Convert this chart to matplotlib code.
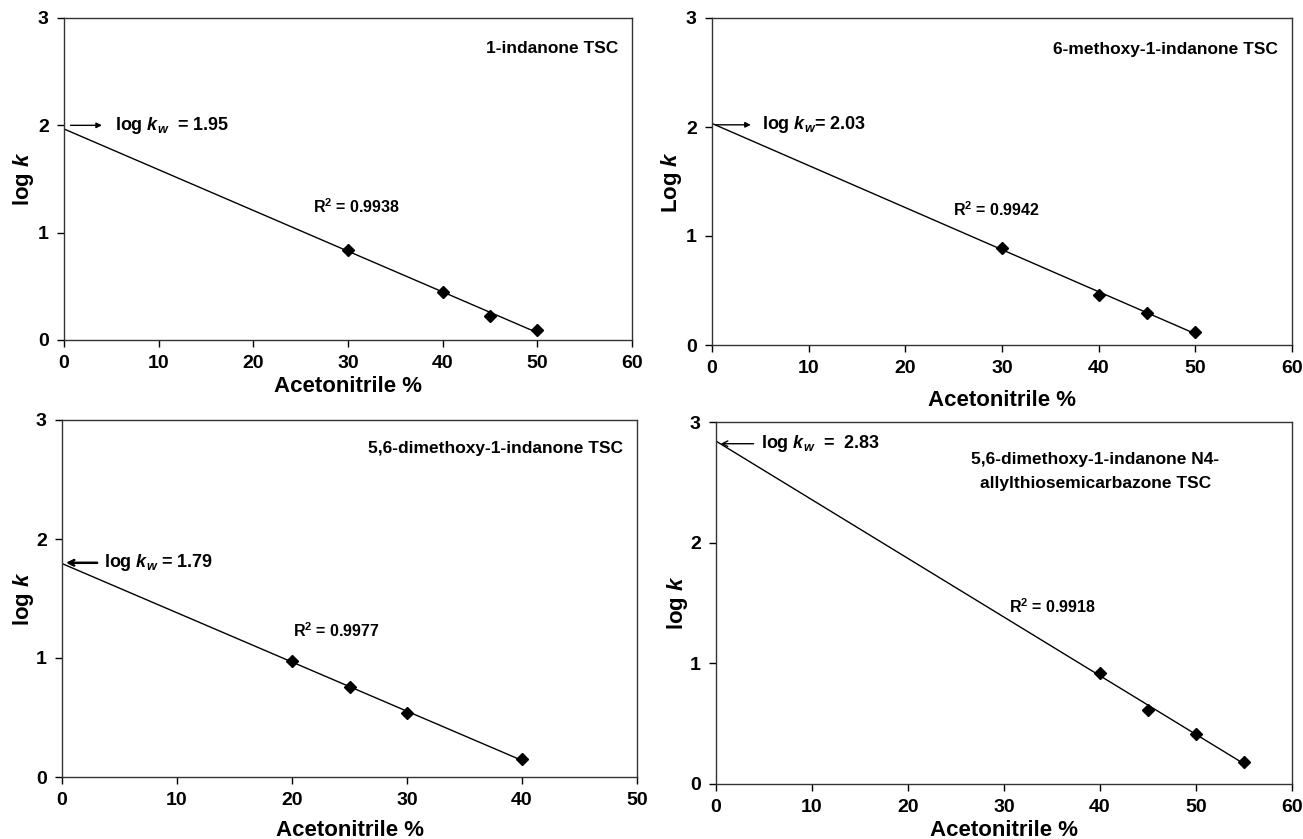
import matplotlib
matplotlib.use("Agg")
import matplotlib.pyplot as plt
import numpy as np

plt.rcParams['font.family'] = ['Liberation Sans', 'DejaVu Sans']
plt.rcParams['mathtext.fontset'] = 'custom'
plt.rcParams['mathtext.rm'] = 'Liberation Sans:bold'
plt.rcParams['mathtext.it'] = 'Liberation Sans:italic:bold'
plt.rcParams['mathtext.bf'] = 'Liberation Sans:bold'

# ---- data ----
titles = ["1-indanone TSC", "6-methoxy-1-indanone TSC",
          "5,6-dimethoxy-1-indanone TSC",
          "5,6-dimethoxy-1-indanone N4-\nallylthiosemicarbazone TSC"]
ylabels = ["log $k$", "Log $k$", "log $k$", "log $k$"]
x1 = [30, 40, 45, 50]
y1 = [0.837, 0.445, 0.226, 0.094]
x2 = [30, 40, 45, 50]
y2 = [0.892, 0.457, 0.290, 0.123]
x3 = [20, 25, 30, 40]
y3 = [0.978, 0.754, 0.538, 0.148]
x4 = [40, 45, 50, 55]
y4 = [0.923, 0.614, 0.412, 0.180]
logkw = [1.95, 2.03, 1.79, 2.83]
r2 = ["0.9938", "0.9942", "0.9977", "0.9918"]
xmax = [60, 60, 50, 60]

fig = plt.figure(figsize=(13.03, 8.39), dpi=100)
rects = [
    [64/1303, 1-340/839, (632-64)/1303, (340-18)/839],
    [712/1303, 1-345/839, (1292-712)/1303, (345-18)/839],
    [62/1303, 1-777/839, (637-62)/1303, (777-420)/839],
    [716/1303, 1-784/839, (1292-716)/1303, (784-422)/839],
]
xlab_y = [-0.112, -0.137, -0.120, -0.099]
ylab_x = [-0.050, -0.049, -0.045, -0.045]
xs = [x1, x2, x3, x4]
ys = [y1, y2, y3, y4]

for i in range(4):
    ax = fig.add_axes(rects[i])
    x = np.array(xs[i], float); y = np.array(ys[i], float)
    slope, icpt = np.polyfit(x, y, 1)
    xl = np.array([0, x.max()])
    ax.plot(xl, icpt + slope*xl, color='black', lw=1.0)
    ax.plot(x, y, 'D', color='black', ms=6.5)
    ax.set_xlim(0, xmax[i]); ax.set_ylim(0, 3)
    ax.set_xticks(np.arange(0, xmax[i]+1, 10))
    ax.set_yticks([0, 1, 2, 3])
    ax.tick_params(direction='out', length=5, width=1, labelsize=14, pad=6)
    for lab in ax.get_xticklabels() + ax.get_yticklabels():
        lab.set_fontweight('bold')
    for sp in ax.spines.values():
        sp.set_color('#333333'); sp.set_linewidth(1.0)
    ax.set_xlabel("Acetonitrile %", fontsize=16, fontweight='bold')
    ax.set_ylabel(ylabels[i], fontsize=16, fontweight='bold')
    ax.xaxis.set_label_coords(0.5, xlab_y[i])
    ax.yaxis.set_label_coords(ylab_x[i], 0.5)

    # compound label
    if i == 3:
        ax.text(39.5, 2.59, titles[i], ha='center', va='center', fontsize=12.5,
                fontweight='bold', linespacing=1.75)
    else:
        ax.text(0.975, 0.905 if i != 2 else 0.92, titles[i], transform=ax.transAxes,
                ha='right', va='center', fontsize=12.5, fontweight='bold')

    # log kw annotation
    if i == 0:
        ax.annotate("", xy=(4.3, 2.0), xytext=(0.4, 2.0),
                    arrowprops=dict(arrowstyle='-|>', color='black', lw=1,
                                    mutation_scale=8))
        ax.text(5.4, 2.0, "log $k_w$  = 1.95", va='center', fontsize=13, fontweight='bold')
        ax.text(26.3, 1.24, "R$^2$ = " + r2[i], va='center', fontsize=11.5, fontweight='bold')
    elif i == 1:
        ax.annotate("", xy=(4.3, 2.02), xytext=(0.1, 2.02),
                    arrowprops=dict(arrowstyle='-|>', color='black', lw=1,
                                    mutation_scale=8))
        ax.text(5.2, 2.02, "log $k_w$= 2.03", va='center', fontsize=13, fontweight='bold')
        ax.text(24.9, 1.24, "R$^2$ = " + r2[i], va='center', fontsize=11.5, fontweight='bold')
    elif i == 2:
        ax.annotate("", xy=(0.1, 1.8), xytext=(3.3, 1.8),
                    arrowprops=dict(arrowstyle='->', color='black', lw=1.8))
        ax.text(3.65, 1.8, "log $k_w$ = %.2f" % logkw[i], va='center', fontsize=13,
                fontweight='bold')
        ax.text(20.1, 1.23, "R$^2$ = " + r2[i], va='center', fontsize=11.5, fontweight='bold')
    else:
        ax.annotate("", xy=(0.2, 2.82), xytext=(4.2, 2.82),
                    arrowprops=dict(arrowstyle='->', color='black', lw=1))
        ax.text(4.7, 2.82, "log $k_w$  =  2.83", va='center', fontsize=13, fontweight='bold')
        ax.text(30.5, 1.47, "R$^2$ = " + r2[i], va='center', fontsize=11.5, fontweight='bold')

fig.savefig("out.png", dpi=100)
